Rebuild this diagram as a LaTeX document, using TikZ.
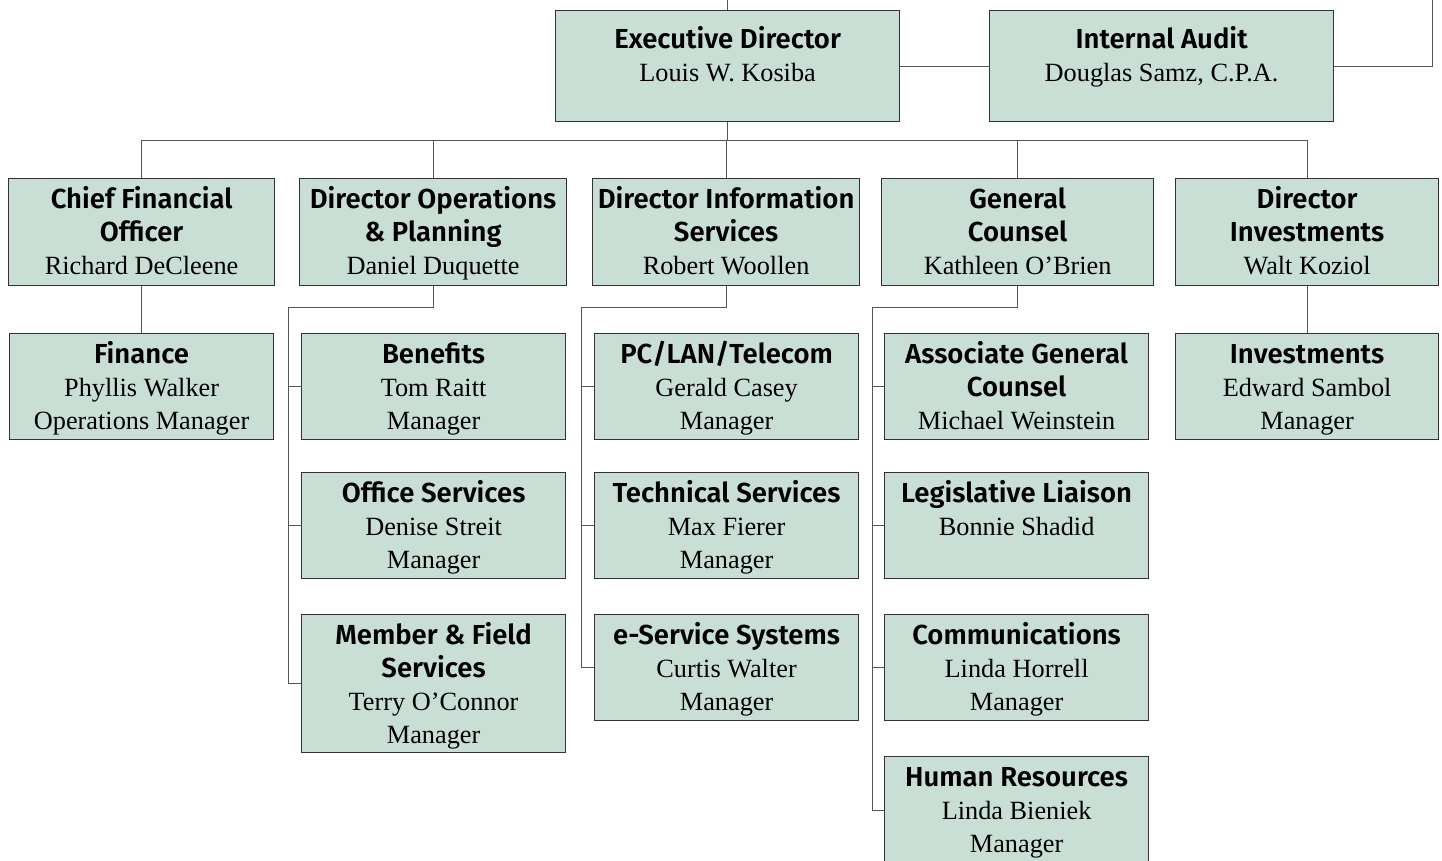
\documentclass[tikz,border=0pt]{standalone}
\usepackage{fontspec}
\setmainfont{Liberation Serif}
\setsansfont{Fira Sans}[BoldFont={Fira Sans SemiBold}]
\definecolor{boxfill}{HTML}{C9DFD6}
\definecolor{boxline}{HTML}{333333}
\definecolor{linkline}{HTML}{555555}
\tikzset{
  orgbox/.style={draw=boxline, fill=boxfill, line width=1.2pt, inner sep=0pt, anchor=north west},
  link/.style={draw=linkline, line width=1pt},
}
\newcommand{\ttl}[1]{{\sffamily\bfseries\fontsize{27.5}{33}\selectfont #1}}
% [first baseline]{name}{x}{y}{width}{height}{text}
\newcommand{\orgbox}[7][30]{%
  \node[orgbox] (#2) at (#3,#4)
    {\parbox[c][#6pt][t]{#5pt}{\centering\fontsize{26.3}{33}\selectfont\rule{0pt}{#1pt}#7\par}};}
\begin{document}
\begin{tikzpicture}[x=1pt,y=-1pt]
\useasboundingbox (0,0) rectangle (1442,861);
\clip (0,0) rectangle (1442,861);
\coordinate (top) at (0,0);
\coordinate (ret) at (1432,0);

% top
\orgbox[38]{ed}{555}{10}{344}{111}{\ttl{Executive Director}\\Louis W. Kosiba}
\orgbox[38]{ia}{989}{10}{344}{111}{\ttl{Internal Audit}\\Douglas Samz, C.P.A.}

% directors
\orgbox{cfo}{8}{178}{266}{107}{\ttl{Chief Financial}\\\ttl{Officer}\\Richard DeCleene}
\orgbox{dop}{299}{178}{267}{107}{\ttl{Director Operations}\\\ttl{\& Planning}\\Daniel Duquette}
\orgbox{dis}{592}{178}{267}{107}{\ttl{Director Information}\\\ttl{Services}\\Robert Woollen}
\orgbox{gc}{881}{178}{272}{107}{\ttl{General}\\\ttl{Counsel}\\Kathleen O’Brien}
\orgbox{di}{1175}{178}{263}{107}{\ttl{Director}\\\ttl{Investments}\\Walt Koziol}

% units
\orgbox{fin}{9}{333}{264}{106}{\ttl{Finance}\\Phyllis Walker\\Operations Manager}
\orgbox{ben}{301}{333}{264}{106}{\ttl{Benefits}\\Tom Raitt\\Manager}
\orgbox{pc}{594}{333}{264}{106}{\ttl{PC/LAN/Telecom}\\Gerald Casey\\Manager}
\orgbox{agc}{884}{333}{264}{106}{\ttl{Associate General}\\\ttl{Counsel}\\Michael Weinstein}
\orgbox{inv}{1175}{333}{263}{106}{\ttl{Investments}\\Edward Sambol\\Manager}

\orgbox{off}{301}{472}{264}{106}{\ttl{Office Services}\\Denise Streit\\Manager}
\orgbox{tec}{594}{472}{264}{106}{\ttl{Technical Services}\\Max Fierer\\Manager}
\orgbox{leg}{884}{472}{264}{106}{\ttl{Legislative Liaison}\\Bonnie Shadid}

\orgbox{mfs}{301}{614}{264}{138}{\ttl{Member \& Field}\\\ttl{Services}\\Terry O’Connor\\Manager}
\orgbox{esv}{594}{614}{264}{106}{\ttl{e-Service Systems}\\Curtis Walter\\Manager}
\orgbox{com}{884}{614}{264}{106}{\ttl{Communications}\\Linda Horrell\\Manager}

\orgbox{hr}{884}{756}{264}{107}{\ttl{Human Resources}\\Linda Bieniek\\Manager}

% connectors
\draw[link] (ed.north) -- (ed.north |- top);
\draw[link] (ed.east) -- (ia.west);
\draw[link] (ia.east) -| (ret);
\coordinate (bus) at ([yshift=-18pt]ed.south);
\draw[link] (ed.south) -- (bus);
\draw[link] (cfo.north |- bus) -- (di.north |- bus);
\foreach \n in {cfo,dop,dis,gc,di}
  \draw[link] (\n.north) -- (\n.north |- bus);

\draw[link] (cfo.south) -- (fin.north);
\draw[link] (di.south) -- (inv.north);

\draw[link] (dop.south) -- ++(0,21) -| ([xshift=-13pt]mfs.west) -- (mfs.west);
\foreach \n in {ben,off}
  \draw[link] (\n.west) -- ++(-13,0);
\draw[link] (dis.south) -- ++(0,21) -| ([xshift=-13pt]esv.west) -- (esv.west);
\foreach \n in {pc,tec}
  \draw[link] (\n.west) -- ++(-13,0);
\draw[link] (gc.south) -- ++(0,21) -| ([xshift=-12pt]hr.west) -- (hr.west);
\foreach \n in {agc,leg,com}
  \draw[link] (\n.west) -- ++(-12,0);
\end{tikzpicture}
\end{document}
